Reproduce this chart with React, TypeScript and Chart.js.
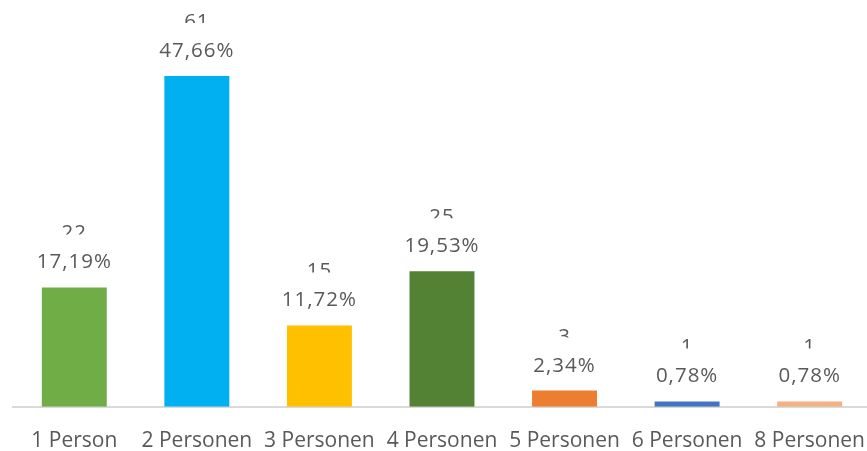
import React, { useEffect, useRef } from "react";
import { Chart, registerables } from "chart.js";

Chart.register(...registerables);

const categories = ["1 Person", "2 Personen", "3 Personen", "4 Personen", "5 Personen", "6 Personen", "8 Personen"];
const counts = [22, 61, 15, 25, 3, 1, 1];
const percentLabels = ["17,19%", "47,66%", "11,72%", "19,53%", "2,34%", "0,78%", "0,78%"];
const barColors = ["#70AD47", "#00B0F0", "#FFC000", "#548235", "#ED7D31", "#4472C4", "#F4B183"];

const FONT = '"Open Sans", sans-serif';
const TEXT_COLOR = "#595959";

const labelPlugin = {
  id: "barLabels",
  afterDatasetsDraw(chart: any) {
    const ctx = chart.ctx;
    const meta = chart.getDatasetMeta(0);
    ctx.save();
    ctx.font = `20.5px ${FONT}`;
    (ctx as any).letterSpacing = "1px";
    ctx.fillStyle = TEXT_COLOR;
    ctx.textAlign = "center";
    ctx.textBaseline = "alphabetic";
    meta.data.forEach((el: any, i: number) => {
      const x = el.x;
      const top = el.y;
      const pctBase = top - 19;
      const countBase = pctBase - 29;
      ctx.save();
      ctx.beginPath();
      ctx.rect(x - 60, 0, 120, pctBase - 34);
      ctx.clip();
      ctx.fillText(String(counts[i]), x, countBase);
      ctx.restore();
      ctx.fillText(percentLabels[i], x, pctBase);
    });
    ctx.restore();
  },
};

export default function App() {
  const ref = useRef<HTMLCanvasElement | null>(null);
  useEffect(() => {
    document.body.style.margin = "0";
    const chart = new Chart(ref.current as HTMLCanvasElement, {
      type: "bar",
      data: {
        labels: categories,
        datasets: [
          {
            data: counts,
            backgroundColor: barColors,
            barPercentage: 0.53,
            categoryPercentage: 1,
          },
        ],
      },
      options: {
        responsive: false,
        animation: false,
        layout: { padding: { left: 13, right: 0, top: 0, bottom: 0 } },
        plugins: { legend: { display: false }, tooltip: { enabled: false } },
        scales: {
          x: {
            grid: { display: false, drawTicks: false },
            border: { display: true, color: "#D9D9D9", width: 2 },
            ticks: { color: TEXT_COLOR, font: { family: FONT, size: 21 }, padding: 22, maxRotation: 0, autoSkip: false },
          },
          y: { display: false, min: 0, max: 75 },
        },
      },
      plugins: [labelPlugin],
    });
    return () => chart.destroy();
  }, []);
  return (
    <div style={{ width: 867, height: 451, overflow: "hidden", background: "#fff" }}>
      <canvas ref={ref} width={887} height={476} style={{ display: "block" }} />
    </div>
  );
}
